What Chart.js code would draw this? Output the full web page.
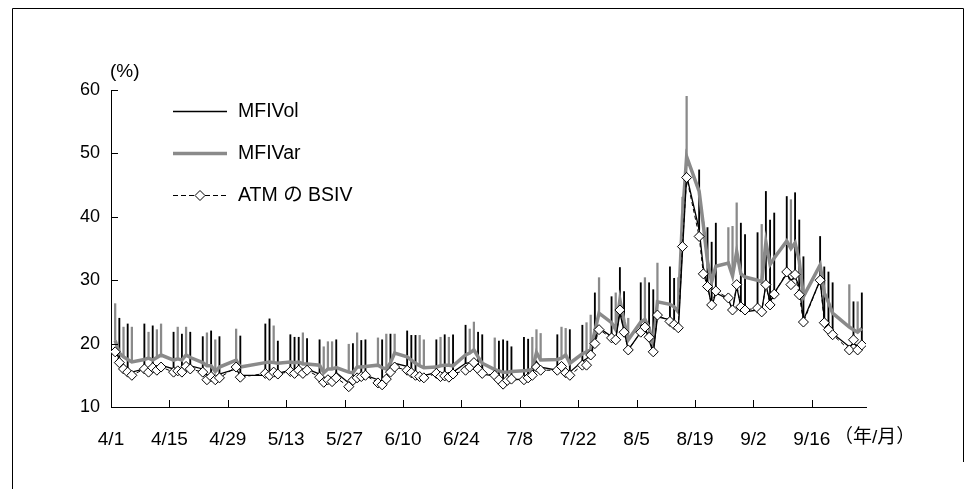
<!DOCTYPE html>
<html>
<head>
<meta charset="utf-8">
<script src="https://cdn.jsdelivr.net/npm/chart.js@4.4.0/dist/chart.umd.min.js"></script>
<style>
  html, body { margin: 0; padding: 0; background: #fff; }
</style>
</head>
<body>
<canvas id="volChart" width="964" height="489"></canvas>
<script>
// business days, 2007 (年/月)
const dates = [
  "4/2","4/3","4/4","4/5","4/6","4/9","4/10","4/11","4/12","4/13","4/16","4/17","4/18","4/19","4/20","4/23","4/24","4/25","4/26","4/27",
  "5/1","5/2","5/8","5/9","5/10","5/11","5/14","5/15","5/16","5/17","5/18","5/21","5/22","5/23","5/24","5/25","5/28","5/29","5/30","5/31",
  "6/1","6/4","6/5","6/6","6/7","6/8","6/11","6/12","6/13","6/14","6/15","6/18","6/19","6/20","6/21","6/22","6/25","6/26","6/27","6/28","6/29",
  "7/2","7/3","7/4","7/5","7/6","7/9","7/10","7/11","7/12","7/13","7/17","7/18","7/19","7/20","7/23","7/24","7/25","7/26","7/27","7/30","7/31",
  "8/1","8/2","8/3","8/6","8/7","8/8","8/9","8/10","8/13","8/14","8/15","8/16","8/17","8/20","8/21","8/22","8/23","8/24","8/27","8/28","8/29","8/30","8/31",
  "9/3","9/4","9/5","9/6","9/7","9/10","9/11","9/12","9/13","9/14","9/18","9/19","9/20","9/21","9/25","9/26","9/27","9/28"
];

const mfiVol = [
  19.0,17.5,16.5,16.0,15.5,16.0,16.2,16.5,16.0,16.6,16.0,16.2,16.0,16.8,16.5,16.0,15.0,15.3,14.8,15.2,
  16.0,15.0,15.0,15.2,15.4,15.3,15.8,15.6,15.9,15.6,16.0,15.2,14.5,14.8,14.6,15.4,13.8,14.4,14.6,14.7,
  15.0,14.3,14.0,14.8,15.8,16.9,16.4,15.8,15.4,15.2,15.0,15.4,15.3,15.4,15.3,15.5,16.9,17.0,17.4,15.8,15.2,
  14.9,14.6,13.9,14.2,14.3,14.4,14.6,15.0,17.2,16.3,15.8,16.6,15.6,15.5,17.2,17.6,18.2,20.5,22.5,21.1,20.8,
  24.8,22.0,19.0,21.8,22.6,20.5,18.5,24.2,23.8,23.0,22.3,34.5,46.5,38.0,32.0,29.3,25.8,28.0,27.0,25.3,29.0,25.8,25.0,
  25.3,25.2,29.3,26.5,28.0,31.0,30.0,30.5,29.0,23.7,30.0,24.0,22.3,21.6,19.5,20.0,19.6,19.8
];

const mfiVar = [
  20.5,18.5,17.9,17.5,17.1,17.5,17.7,17.4,17.8,18.2,17.4,17.6,17.4,18.2,17.8,17.0,16.5,16.5,15.6,16.3,
  17.4,16.3,17.0,17.1,17.0,16.9,17.1,17.0,17.1,16.8,16.8,16.6,15.4,16.0,16.0,16.2,15.5,15.4,16.3,16.3,
  16.4,16.6,16.2,16.0,17.0,18.5,17.9,17.4,16.9,16.5,16.2,16.3,16.5,16.6,16.6,16.5,18.2,18.5,19.0,17.9,16.9,
  15.9,15.7,15.5,15.5,15.6,15.7,15.8,15.9,18.6,17.4,17.5,17.7,18.2,16.9,18.4,18.7,19.0,22.0,24.8,23.3,22.2,
  26.9,23.5,20.6,23.4,23.8,22.5,19.8,26.6,26.2,25.8,25.0,40.0,49.5,44.0,38.7,33.0,29.7,32.2,32.7,30.7,34.5,31.0,30.5,
  30.0,29.7,36.0,32.5,33.5,36.2,35.0,35.9,33.0,27.4,32.4,28.0,26.5,24.8,22.6,22.2,21.8,22.4
];

const bsiv = [
  18.7,17.0,16.0,15.5,15.0,16.0,15.5,16.2,15.8,16.3,15.5,15.7,15.5,16.4,16.0,15.5,14.3,14.8,14.3,14.6,
  16.3,14.7,15.3,15.0,15.5,15.2,15.6,15.3,15.8,15.3,15.8,14.7,13.9,14.3,14.0,14.6,13.2,14.2,14.6,14.8,
  15.0,13.8,13.5,14.4,15.5,16.3,15.8,15.4,15.0,14.8,14.6,15.3,14.8,14.9,14.7,15.2,15.8,16.3,17.0,16.0,15.3,
  15.0,14.3,13.6,14.2,14.4,14.3,14.6,15.0,16.3,15.8,15.8,16.4,15.4,15.0,16.6,16.6,18.2,20.0,22.2,20.9,20.6,
  25.3,21.8,19.0,21.8,22.6,21.0,18.7,24.5,23.5,23.0,22.5,35.3,46.2,36.9,31.0,29.0,26.1,28.3,27.2,25.3,29.3,25.8,25.3,
  25.6,25.0,29.3,26.1,27.8,31.3,29.3,30.9,27.7,23.4,30.0,23.3,22.2,21.4,19.0,20.6,19.0,19.8
];

// upper ends of the vertical ranges (black = MFIVol side, gray = MFIVar side)
const upperVol = [
  null,24.0,null,23.1,null,23.1,null,22.8,null,null,21.8,null,21.5,null,21.8,21.1,null,22.0,null,21.1,
  null,21.2,23.1,23.9,null,20.4,21.4,21.0,21.0,null,20.8,20.6,null,null,null,20.6,null,20.0,null,20.5,
  20.6,null,20.6,null,21.5,null,22.0,21.3,21.3,null,null,20.6,null,21.4,null,21.4,22.9,null,null,21.8,21.4,
  null,20.4,20.6,20.4,19.5,21.0,20.7,null,null,null,21.4,null,null,22.2,22.9,null,null,28.0,null,27.4,null,
  32.0,28.2,null,29.6,null,29.6,28.5,null,32.1,30.3,null,null,null,47.4,null,38.3,36.0,39.0,null,null,null,39.0,37.2,
  37.5,null,44.0,39.5,40.6,43.2,null,43.8,39.5,33.7,36.9,32.1,31.3,29.6,null,26.6,null,28.0
];

const upperVar = [
  26.3,null,22.6,null,22.6,null,21.8,null,22.2,23.1,null,22.6,null,22.6,null,null,21.7,null,20.6,null,
  22.3,null,null,null,22.8,null,null,null,null,21.7,null,null,19.5,20.3,20.3,null,19.9,null,21.7,null,
  null,20.9,null,21.5,null,21.5,null,null,null,21.3,20.6,null,21.0,null,21.0,null,null,22.3,23.4,null,null,
  20.9,null,null,null,null,null,null,21.0,22.2,21.6,null,22.6,22.4,null,null,23.3,24.5,null,30.4,null,28.0,
  null,null,24.0,null,30.4,null,null,32.7,null,null,30.4,43.1,59.0,null,39.2,null,null,null,38.3,38.5,42.2,null,null,
  null,38.8,null,null,null,null,42.7,null,null,null,null,null,null,null,29.3,null,26.6,null
];

const tickDates = ["4/1","4/15","4/29","5/13","5/27","6/10","6/24","7/8","7/22","8/5","8/19","9/2","9/16"];

const FONT = '"Liberation Sans", "Noto Sans CJK JP", sans-serif';
const GRAY = "#8a8a8a";

// days counted from 4/1
function dayOf(s) {
  const [m, d] = s.split("/").map(Number);
  return Math.round((new Date(2007, m - 1, d) - new Date(2007, 3, 1)) / 864e5);
}
const xs = dates.map(dayOf);
const tickDays = tickDates.map(dayOf);

const pts = arr => arr.map((v, i) => ({ x: xs[i], y: v }));
const ranges = (base, top) => top
  .map((v, i) => (v == null ? null : { x: xs[i], y: [base[i], v] }))
  .filter(p => p);

const extras = {
  id: "extras",
  afterDraw(chart) {
    const c = chart.ctx;
    const xA = chart.scales.x, yA = chart.scales.y;
    const area = chart.chartArea;
    c.save();
    // outer frame
    c.strokeStyle = "#000";
    c.lineWidth = 1;
    c.beginPath();
    c.moveTo(12.5, 489); c.lineTo(12.5, 8.5); c.lineTo(963.5, 8.5); c.lineTo(963.5, 462);
    c.stroke();

    // inward tick marks
    c.beginPath();
    for (let v = 10; v <= 60; v += 10) {
      const y = Math.round(yA.getPixelForValue(v)) + 0.5;
      c.moveTo(area.left, y); c.lineTo(area.left + 7, y);
    }
    tickDays.forEach(d => {
      if (d === 0) return;
      const x = Math.round(xA.getPixelForValue(d)) + 0.5;
      c.moveTo(x, area.bottom); c.lineTo(x, area.bottom - 7);
    });
    c.stroke();

    c.fillStyle = "#000";
    c.textBaseline = "middle";
    c.textAlign = "left";
    c.font = "19px " + FONT;
    c.fillText("(%)", 110, 72);
    c.fillText("（年/月）", 834, 438);

    // legend
    const lx1 = 173, lx2 = 227, tx = 238;
    c.font = "19.5px " + FONT;
    c.lineWidth = 1.3;
    c.beginPath(); c.moveTo(lx1, 111.5); c.lineTo(lx2, 111.5); c.stroke();
    c.fillText("MFIVol", tx, 112);

    c.strokeStyle = GRAY;
    c.lineWidth = 3.5;
    c.beginPath(); c.moveTo(lx1, 153.5); c.lineTo(lx2, 153.5); c.stroke();
    c.fillText("MFIVar", tx, 154);

    c.strokeStyle = "#000";
    c.lineWidth = 1;
    c.setLineDash([5, 3]);
    c.beginPath(); c.moveTo(lx1, 195.5); c.lineTo(lx2, 195.5); c.stroke();
    c.setLineDash([]);
    const dx = 200, dy = 195.5, r = 5;
    c.fillStyle = "#fff";
    c.beginPath();
    c.moveTo(dx, dy - r); c.lineTo(dx + r, dy); c.lineTo(dx, dy + r); c.lineTo(dx - r, dy); c.closePath();
    c.fill(); c.stroke();
    c.fillStyle = "#000";
    c.fillText("ATM の BSIV", tx, 196);
    c.restore();
  }
};

new Chart(document.getElementById("volChart").getContext("2d"), {
  type: "line",
  data: {
    datasets: [
      {
        label: "ATM の BSIV",
        data: pts(bsiv),
        borderColor: "#000",
        borderWidth: 1,
        borderDash: [4, 3],
        pointStyle: "rectRot",
        pointRadius: 5,
        pointBackgroundColor: "#fff",
        pointBorderColor: "#000",
        pointBorderWidth: 1,
        order: 0,
      },
      {
        label: "MFIVol",
        data: pts(mfiVol),
        borderColor: "#000",
        borderWidth: 1.3,
        pointRadius: 0,
        order: 1,
      },
      {
        label: "MFIVar",
        data: pts(mfiVar),
        borderColor: GRAY,
        borderWidth: 3.5,
        pointRadius: 0,
        order: 2,
      },
      {
        type: "bar",
        label: "range (MFIVol)",
        data: ranges(mfiVol, upperVol),
        backgroundColor: "#000",
        barThickness: 1.2,
        grouped: false,
        order: 3,
      },
      {
        type: "bar",
        label: "range (MFIVar)",
        data: ranges(mfiVar, upperVar),
        backgroundColor: GRAY,
        barThickness: 1.6,
        grouped: false,
        order: 3,
      },
    ],
  },
  options: {
    responsive: false,
    animation: false,
    events: [],
    layout: { padding: { top: 90, right: 98, left: 0, bottom: 0 } },
    plugins: { legend: { display: false }, tooltip: { enabled: false } },
    scales: {
      x: {
        type: "linear",
        min: 0,
        max: 181,
        offset: false,
        afterFit: s => { s.height = 82; },
        afterBuildTicks: s => { s.ticks = tickDays.map(v => ({ value: v })); },
        grid: { display: false, drawTicks: false },
        border: { display: true, color: "#000", width: 1 },
        ticks: {
          autoSkip: false,
          maxRotation: 0,
          padding: 21,
          color: "#000",
          font: { family: FONT, size: 19 },
          callback: v => tickDates[tickDays.indexOf(v)],
        },
      },
      y: {
        min: 10,
        max: 60,
        afterFit: s => { s.width = 111; },
        grid: { display: false, drawTicks: false },
        border: { display: true, color: "#000", width: 1 },
        ticks: {
          stepSize: 10,
          padding: 11,
          color: "#000",
          font: { family: FONT, size: 18 },
        },
      },
    },
  },
  plugins: [extras],
});
</script>
</body>
</html>
